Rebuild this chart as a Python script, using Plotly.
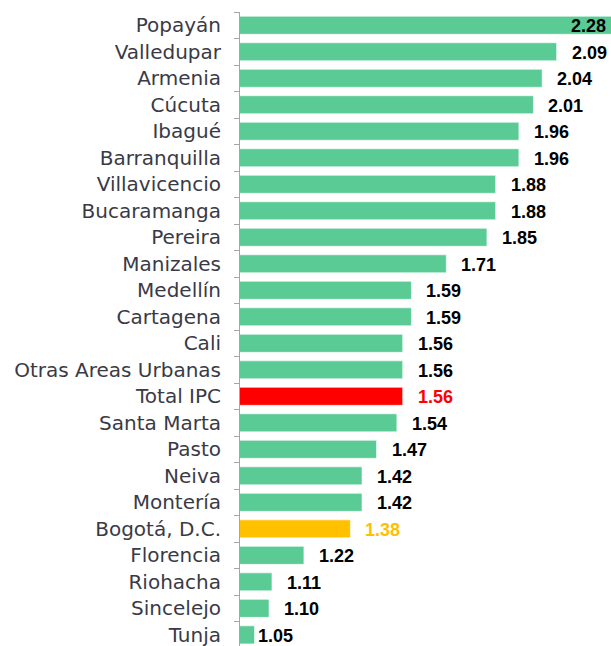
import plotly.graph_objects as go

categories = ["Popayán", "Valledupar", "Armenia", "Cúcuta", "Ibagué", "Barranquilla",
              "Villavicencio", "Bucaramanga", "Pereira", "Manizales", "Medellín", "Cartagena",
              "Cali", "Otras Areas Urbanas", "Total IPC", "Santa Marta", "Pasto", "Neiva",
              "Montería", "Bogotá, D.C.", "Florencia", "Riohacha", "Sincelejo", "Tunja"]
values = [2.28, 2.09, 2.04, 2.01, 1.96, 1.96, 1.88, 1.88, 1.85, 1.71, 1.59, 1.59,
          1.56, 1.56, 1.56, 1.54, 1.47, 1.42, 1.42, 1.38, 1.22, 1.11, 1.10, 1.05]
value_labels = ["%.2f" % v for v in values]

GREEN = "#5ACB95"
RED = "#FF0000"
GOLD = "#FFC000"
special = {"Total IPC": RED, "Bogotá, D.C.": GOLD}

bar_colors = [special.get(c, GREEN) for c in categories]
label_colors = [special.get(c, "#000000") for c in categories]

X_MIN, X_MAX = 1.0, 2.277

fig = go.Figure()
fig.add_trace(go.Bar(
    x=values, y=categories, orientation="h",
    base=0,
    marker=dict(color=bar_colors, line=dict(color="rgba(255,255,255,0.6)", width=1)),
    hoverinfo="skip",
))

label_font = "Liberation Sans Narrow, Arial Narrow, Liberation Sans, Arial"
annotations = []
for i, (c, v, t, col) in enumerate(zip(categories, values, value_labels, label_colors)):
    ann = dict(y=c, yref="y", text="<b>" + t + "</b>", showarrow=False,
               yanchor="middle", yshift=-1,
               font=dict(family=label_font, size=18, color=col))
    if v > X_MAX:
        # value runs past the plotting area: label sits inside the clipped bar end
        ann.update(x=1, xref="paper", xanchor="right", xshift=-3)
    elif i == len(categories) - 1:
        ann.update(x=v, xref="x", xanchor="left", xshift=1)
    else:
        ann.update(x=v, xref="x", xanchor="left", xshift=13)
    annotations.append(ann)

fig.update_layout(
    width=611, height=646,
    margin=dict(l=240, r=0, t=12, b=0),
    paper_bgcolor="white", plot_bgcolor="white",
    bargap=0.32,
    showlegend=False,
    annotations=annotations,
    xaxis=dict(range=[X_MIN, X_MAX], visible=False, showgrid=False, zeroline=False),
    yaxis=dict(
        type="category", categoryorder="array", categoryarray=categories,
        range=[23.42, -0.5],
        showline=True, linecolor="#A6A6A6", linewidth=1,
        ticks="outside", tickson="boundaries", ticklen=5, tickcolor="#A6A6A6",
        showgrid=False, ticklabelstandoff=14,
        tickfont=dict(family="DejaVu Sans, Lato, sans-serif", size=20, color="#3A3A46"),
    ),
)

fig.write_html("out.html")
